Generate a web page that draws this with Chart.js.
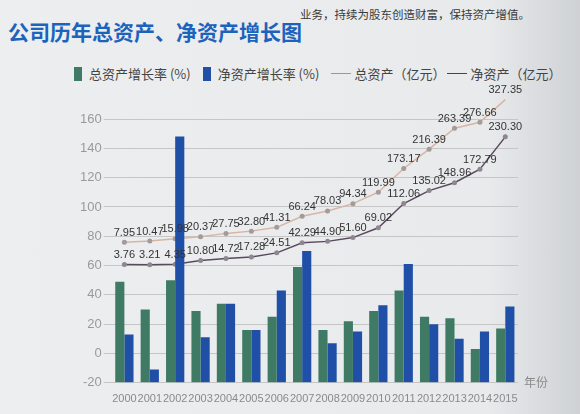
<!DOCTYPE html>
<html lang="zh">
<head>
<meta charset="utf-8">
<script src="https://cdn.jsdelivr.net/npm/chart.js@4.4.1/dist/chart.umd.min.js"></script>
<style>
  html, body { margin: 0; padding: 0; }
  body {
    width: 580px; height: 414px; overflow: hidden; position: relative;
    background: linear-gradient(to right, #eceef0 0%, #e8eaec 84%, #cfd2d5 100%);
    font-family: "Noto Sans CJK SC", "Noto Sans", sans-serif;
  }
  .intro { position: absolute; left: 300px; top: 6px; font-size: 11.5px; color: #3a3a3a; }
  h1 {
    position: absolute; left: 8px; top: 16px; margin: 0;
    font-size: 21px; font-weight: bold; color: #1b63bc;
  }
  .legend {
    position: absolute; left: 74px; top: 64px; display: flex; align-items: center;
    font-size: 13px; color: #444; white-space: nowrap;
  }
  .legend .sw { display: inline-block; width: 8px; height: 14px; margin-right: 7px; }
  .legend .ln { display: inline-block; width: 20px; height: 0; border-top: 1.5px solid; margin-right: 3px; }
  .legend .item { display: flex; align-items: center; margin-right: 12px; }
  canvas { position: absolute; left: 0; top: 0; }
</style>
</head>
<body>
<div class="intro">业务，持续为股东创造财富，保持资产增值。</div>
<h1>公司历年总资产、净资产增长图</h1>
<div class="legend">
  <span class="item"><span class="sw" style="background:#3e7a64"></span>总资产增长率 (%)</span>
  <span class="item"><span class="sw" style="background:#1f4fa6"></span>净资产增长率 (%)</span>
  <span class="item" style="margin-right:2px"><span class="ln" style="border-color:#d8826e"></span>总资产（亿元）</span>
  <span class="item"><span class="ln" style="border-color:#4a4050"></span>净资产（亿元）</span>
</div>
<canvas id="chart" width="580" height="414"></canvas>
<script>
// ─── Data ───────────────────────────────────────────────────────────────
const years = ["2000", "2001", "2002", "2003", "2004", "2005", "2006", "2007",
               "2008", "2009", "2010", "2011", "2012", "2013", "2014", "2015"];

// growth rates (%)
const totalGrowth = [49, 30, 50, 29, 34, 16, 25, 59, 16, 22, 29, 43, 25, 24, 3, 17];
const netGrowth   = [13, -11, 148, 11, 34, 16, 43, 70, 7, 15, 33, 61, 20, 10, 15, 32];

// asset values (亿元), from the point labels
const totalAssets = [7.95, 10.47, 15.98, 20.37, 27.75, 32.80, 41.31, 66.24,
                     78.03, 94.34, 119.99, 173.17, 216.39, 263.39, 276.66, 327.35];
const netAssets   = [3.76, 3.21, 4.35, 10.80, 14.72, 17.28, 24.51, 42.29,
                     44.90, 51.60, 69.02, 112.06, 135.02, 148.96, 172.79, 230.30];

const yTicks = { min: -20, max: 160, step: 20 };

// ─── Point labels + axis unit ───────────────────────────────────────────
const valueLabels = {
  id: "valueLabels",
  afterDatasetsDraw(chart) {
    const ctx = chart.ctx;
    ctx.save();
    ctx.font = '11px "Liberation Sans", Arial, sans-serif';
    ctx.fillStyle = "#333";
    ctx.textAlign = "center";
    ctx.textBaseline = "bottom";
    chart.data.datasets.forEach((ds, i) => {
      if (ds.type !== "line") return;
      chart.getDatasetMeta(i).data.forEach((pt, j) => {
        ctx.fillText(ds.data[j].toFixed(2), pt.x, pt.y - 4);
      });
    });
    const area = chart.chartArea;
    ctx.font = '12px "Noto Sans CJK SC", sans-serif';
    ctx.fillStyle = "#8a8a8a";
    ctx.textAlign = "left";
    ctx.textBaseline = "middle";
    ctx.fillText("年份", area.right + 6, area.bottom);
    ctx.restore();
  },
};

new Chart(document.getElementById("chart"), {
  type: "bar",
  data: {
    labels: years,
    datasets: [
      {
        label: "总资产增长率 (%)",
        data: totalGrowth,
        base: yTicks.min,
        backgroundColor: "#3e7a64",
        categoryPercentage: 0.72,
        barPercentage: 1.0,
        order: 1,
      },
      {
        label: "净资产增长率 (%)",
        data: netGrowth,
        base: yTicks.min,
        backgroundColor: "#1f4fa6",
        categoryPercentage: 0.72,
        barPercentage: 1.0,
        order: 1,
      },
      {
        type: "line",
        label: "总资产（亿元）",
        data: totalAssets,
        yAxisID: "yTotal",
        borderColor: "#d9b4a4",
        borderWidth: 1.5,
        pointRadius: 2.5,
        pointBackgroundColor: "#a39a9a",
        pointBorderWidth: 0,
        tension: 0,
        clip: false,
        order: 2,
      },
      {
        type: "line",
        label: "净资产（亿元）",
        data: netAssets,
        yAxisID: "yNet",
        borderColor: "#5a4a5e",
        borderWidth: 1.5,
        pointRadius: 2.5,
        pointBackgroundColor: "#8f8690",
        pointBorderWidth: 0,
        tension: 0,
        clip: false,
        order: 2,
      },
    ],
  },
  options: {
    responsive: false,
    animation: false,
    layout: { padding: { top: 119, left: 78, right: 62, bottom: 6 } },
    plugins: {
      legend: { display: false },
      tooltip: { enabled: false },
    },
    scales: {
      x: {
        grid: { display: false },
        border: { display: false },
        ticks: {
          color: "#8a8a8a", font: { size: 11 }, padding: 2,
          maxRotation: 0, minRotation: 0, autoSkip: false,
        },
      },
      y: {
        min: yTicks.min,
        max: yTicks.max,
        ticks: { stepSize: yTicks.step, color: "#9a9a9a", font: { size: 13 }, padding: 2 },
        grid: { color: "#c6c6c6", tickLength: 8 },
        border: { display: false },
      },
      // hidden value axes for the two asset lines
      yTotal: { display: false, min: -307, max: 284 },
      yNet:   { display: false, min: -206, max: 262 },
    },
  },
  plugins: [valueLabels],
});
</script>
</body>
</html>
